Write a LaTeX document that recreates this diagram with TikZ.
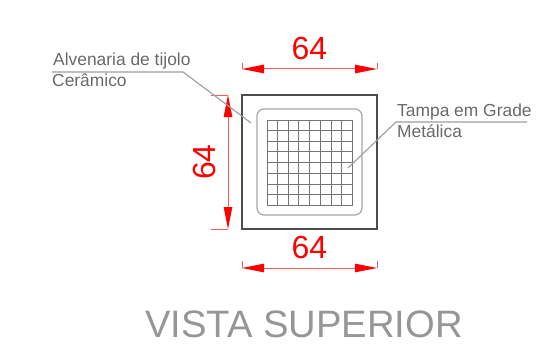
\documentclass[tikz,border=0pt]{standalone}
\usepackage{fontspec}
\setmainfont{Liberation Sans}
\usetikzlibrary{arrows.meta,positioning,calc}
\definecolor{dimred}{RGB}{255,0,0}
\definecolor{labelgray}{RGB}{105,105,105}
\definecolor{titlegray}{RGB}{150,150,150}
\tikzset{
    dimline/.style={draw=dimred!65,line width=1pt,{Triangle[length=22pt,width=8.5pt,fill=dimred,color=dimred]}-{Triangle[length=22pt,width=8.5pt,fill=dimred,color=dimred]}},
    dimtick/.style={draw=dimred!65,line width=1pt},
    dimtext/.style={text=dimred,font=\fontsize{32}{32}\selectfont,inner sep=0pt},
    leaderline/.style={draw=labelgray!65,line width=1.1pt},
    labeltext/.style={text=labelgray,font=\fontsize{17.4}{17.4}\selectfont,inner sep=0pt,anchor=base west}
}
\begin{document}
\begin{tikzpicture}[x=1pt,y=-1pt]
    \useasboundingbox (0,0) rectangle (541,361);

    % Walls and lid
    \node[draw=black!70,line width=1.1pt,minimum width=135pt,minimum height=134pt,inner sep=0pt] (wall) at (309.5,162) {};
    \node[draw=black!35,line width=1.2pt,rounded corners=7pt,minimum width=105pt,minimum height=106pt,inner sep=0pt] (lid) at (309.5,162) {};

    % Grid
    \node[draw=black!55,line width=0.8pt,minimum width=85pt,minimum height=85pt,inner sep=0pt] (grate) at (309.5,162.5) {};
    \foreach \i in {1,...,7} {
        \draw[black!55,line width=0.8pt] ($(grate.north west)!\i/8!(grate.north east)$) -- ($(grate.south west)!\i/8!(grate.south east)$);
        \draw[black!55,line width=0.8pt] ($(grate.north west)!\i/8!(grate.south west)$) -- ($(grate.north east)!\i/8!(grate.south east)$);
    }

    % Top dimension
    \coordinate (ta) at (242,69);
    \coordinate (tb) at (377,69);
    \draw[dimline] (ta) -- (tb);
    \draw[dimtick] (242,63) -- (ta);
    \draw[dimtick] (377,63) -- (tb);
    \node[dimtext] (toplabel) at (309.5,48) {64};

    % Left dimension
    \coordinate (la) at (228,95);
    \coordinate (lb) at (228,229);
    \draw[dimline] (la) -- (lb);
    \draw[dimtick] (211,95) -- (la);
    \draw[dimtick] (211,229) -- (lb);
    \node[dimtext,rotate=90] (leftlabel) at (204.5,162) {64};

    % Bottom dimension
    \coordinate (ba) at (242,268);
    \coordinate (bb) at (377,268);
    \draw[dimline] (ba) -- (bb);
    \draw[dimtick] (242,261) -- (ba);
    \draw[dimtick] (377,261) -- (bb);
    \node[dimtext] (bottomlabel) at (309.5,247) {64};

    % Labels
    \node[labeltext] (wallname) at (53,66) {Alvenaria de tijolo};
    \node[labeltext] (wallname2) at (52,87) {Cerâmico};
    \coordinate (wa) at (52,72);
    \coordinate (wb) at (183,72);
    \coordinate (wc) at (251,123);
    \draw[leaderline] (wa) -- (wb) -- (wc);

    \node[labeltext] (lidname) at (397,116) {Tampa em Grade};
    \node[labeltext] (lidname2) at (397,137) {Metálica};
    \coordinate (ga) at (348,168);
    \coordinate (gb) at (396,122);
    \coordinate (gc) at (527,122);
    \draw[leaderline] (ga) -- (gb) -- (gc);

    \node[text=titlegray,font=\fontsize{38.2}{38.2}\selectfont,inner sep=0pt,anchor=base] (title) at (304,337) {VISTA SUPERIOR};
\end{tikzpicture}
\end{document}
